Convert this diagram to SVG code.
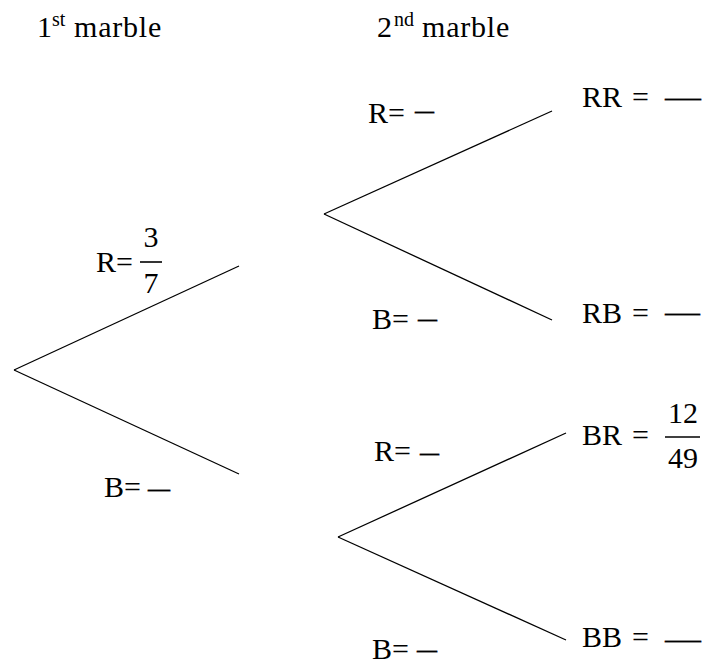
<svg xmlns="http://www.w3.org/2000/svg" width="704" height="664" viewBox="0 0 704 664">
<style>
text{font-family:"Liberation Serif","Times New Roman",serif;font-size:30px;fill:#000}
.sup{font-size:20px}
.m{letter-spacing:0.8px}
.d{stroke:#000;stroke-width:0.2}
.br{stroke:#000;stroke-width:1.3;fill:none}
.bar{stroke:#000;stroke-width:1.6}
</style>
<rect width="704" height="664" fill="#fff"/>
<g id="connectors">
<line class="br" x1="14" y1="370" x2="239" y2="266"/>
<line class="br" x1="14" y1="370" x2="239" y2="474"/>
<line class="br" x1="324" y1="214" x2="552" y2="111"/>
<line class="br" x1="324" y1="214" x2="552" y2="320"/>
<line class="br" x1="338" y1="537" x2="566" y2="433"/>
<line class="br" x1="338" y1="537" x2="566" y2="640"/>
</g>
<g id="header1"><text x="37" y="37">1<tspan class="sup" x="52" y="26">st</tspan><tspan class="m" x="74" y="37">marble</tspan></text></g>
<g id="header2"><text x="377" y="37">2<tspan class="sup" x="394" y="26">nd</tspan><tspan class="m" x="422" y="37">marble</tspan></text></g>
<g id="first-R"><text x="96" y="272">R=</text><line class="bar" x1="140" y1="262" x2="162" y2="262"/><text x="151" y="247" text-anchor="middle">3</text><text x="151" y="293" text-anchor="middle">7</text></g>
<g id="first-B"><text x="104" y="497">B=<tspan class="d" x="148" y="498" textLength="22" lengthAdjust="spacingAndGlyphs">–</tspan></text></g>
<g id="R-R"><text x="368" y="123">R=<tspan class="d" x="415" y="120" textLength="19" lengthAdjust="spacingAndGlyphs">–</tspan></text></g>
<g id="R-B"><text x="372" y="329">B=<tspan class="d" x="418" y="328" textLength="19" lengthAdjust="spacingAndGlyphs">–</tspan></text></g>
<g id="B-R"><text x="374" y="461">R=<tspan class="d" x="420" y="462" textLength="19" lengthAdjust="spacingAndGlyphs">–</tspan></text></g>
<g id="B-B"><text x="372" y="659">B=<tspan class="d" x="417" y="659" textLength="20" lengthAdjust="spacingAndGlyphs">–</tspan></text></g>
<g id="RR"><text x="582" y="107">RR<tspan x="632">=</tspan><tspan class="d" x="665" y="107" textLength="36" lengthAdjust="spacingAndGlyphs">—</tspan></text></g>
<g id="RB"><text x="582" y="323">RB<tspan x="632">=</tspan><tspan class="d" x="665" y="322" textLength="35" lengthAdjust="spacingAndGlyphs">—</tspan></text></g>
<g id="BR"><text x="582" y="445">BR<tspan x="632">=</tspan></text><line class="bar" x1="665" y1="437" x2="700" y2="437"/><text x="683" y="423" text-anchor="middle">12</text><text x="683" y="468" text-anchor="middle">49</text></g>
<g id="BB"><text x="582" y="647">BB<tspan x="632">=</tspan><tspan class="d" x="665" y="649" textLength="36" lengthAdjust="spacingAndGlyphs">—</tspan></text></g>
</svg>
